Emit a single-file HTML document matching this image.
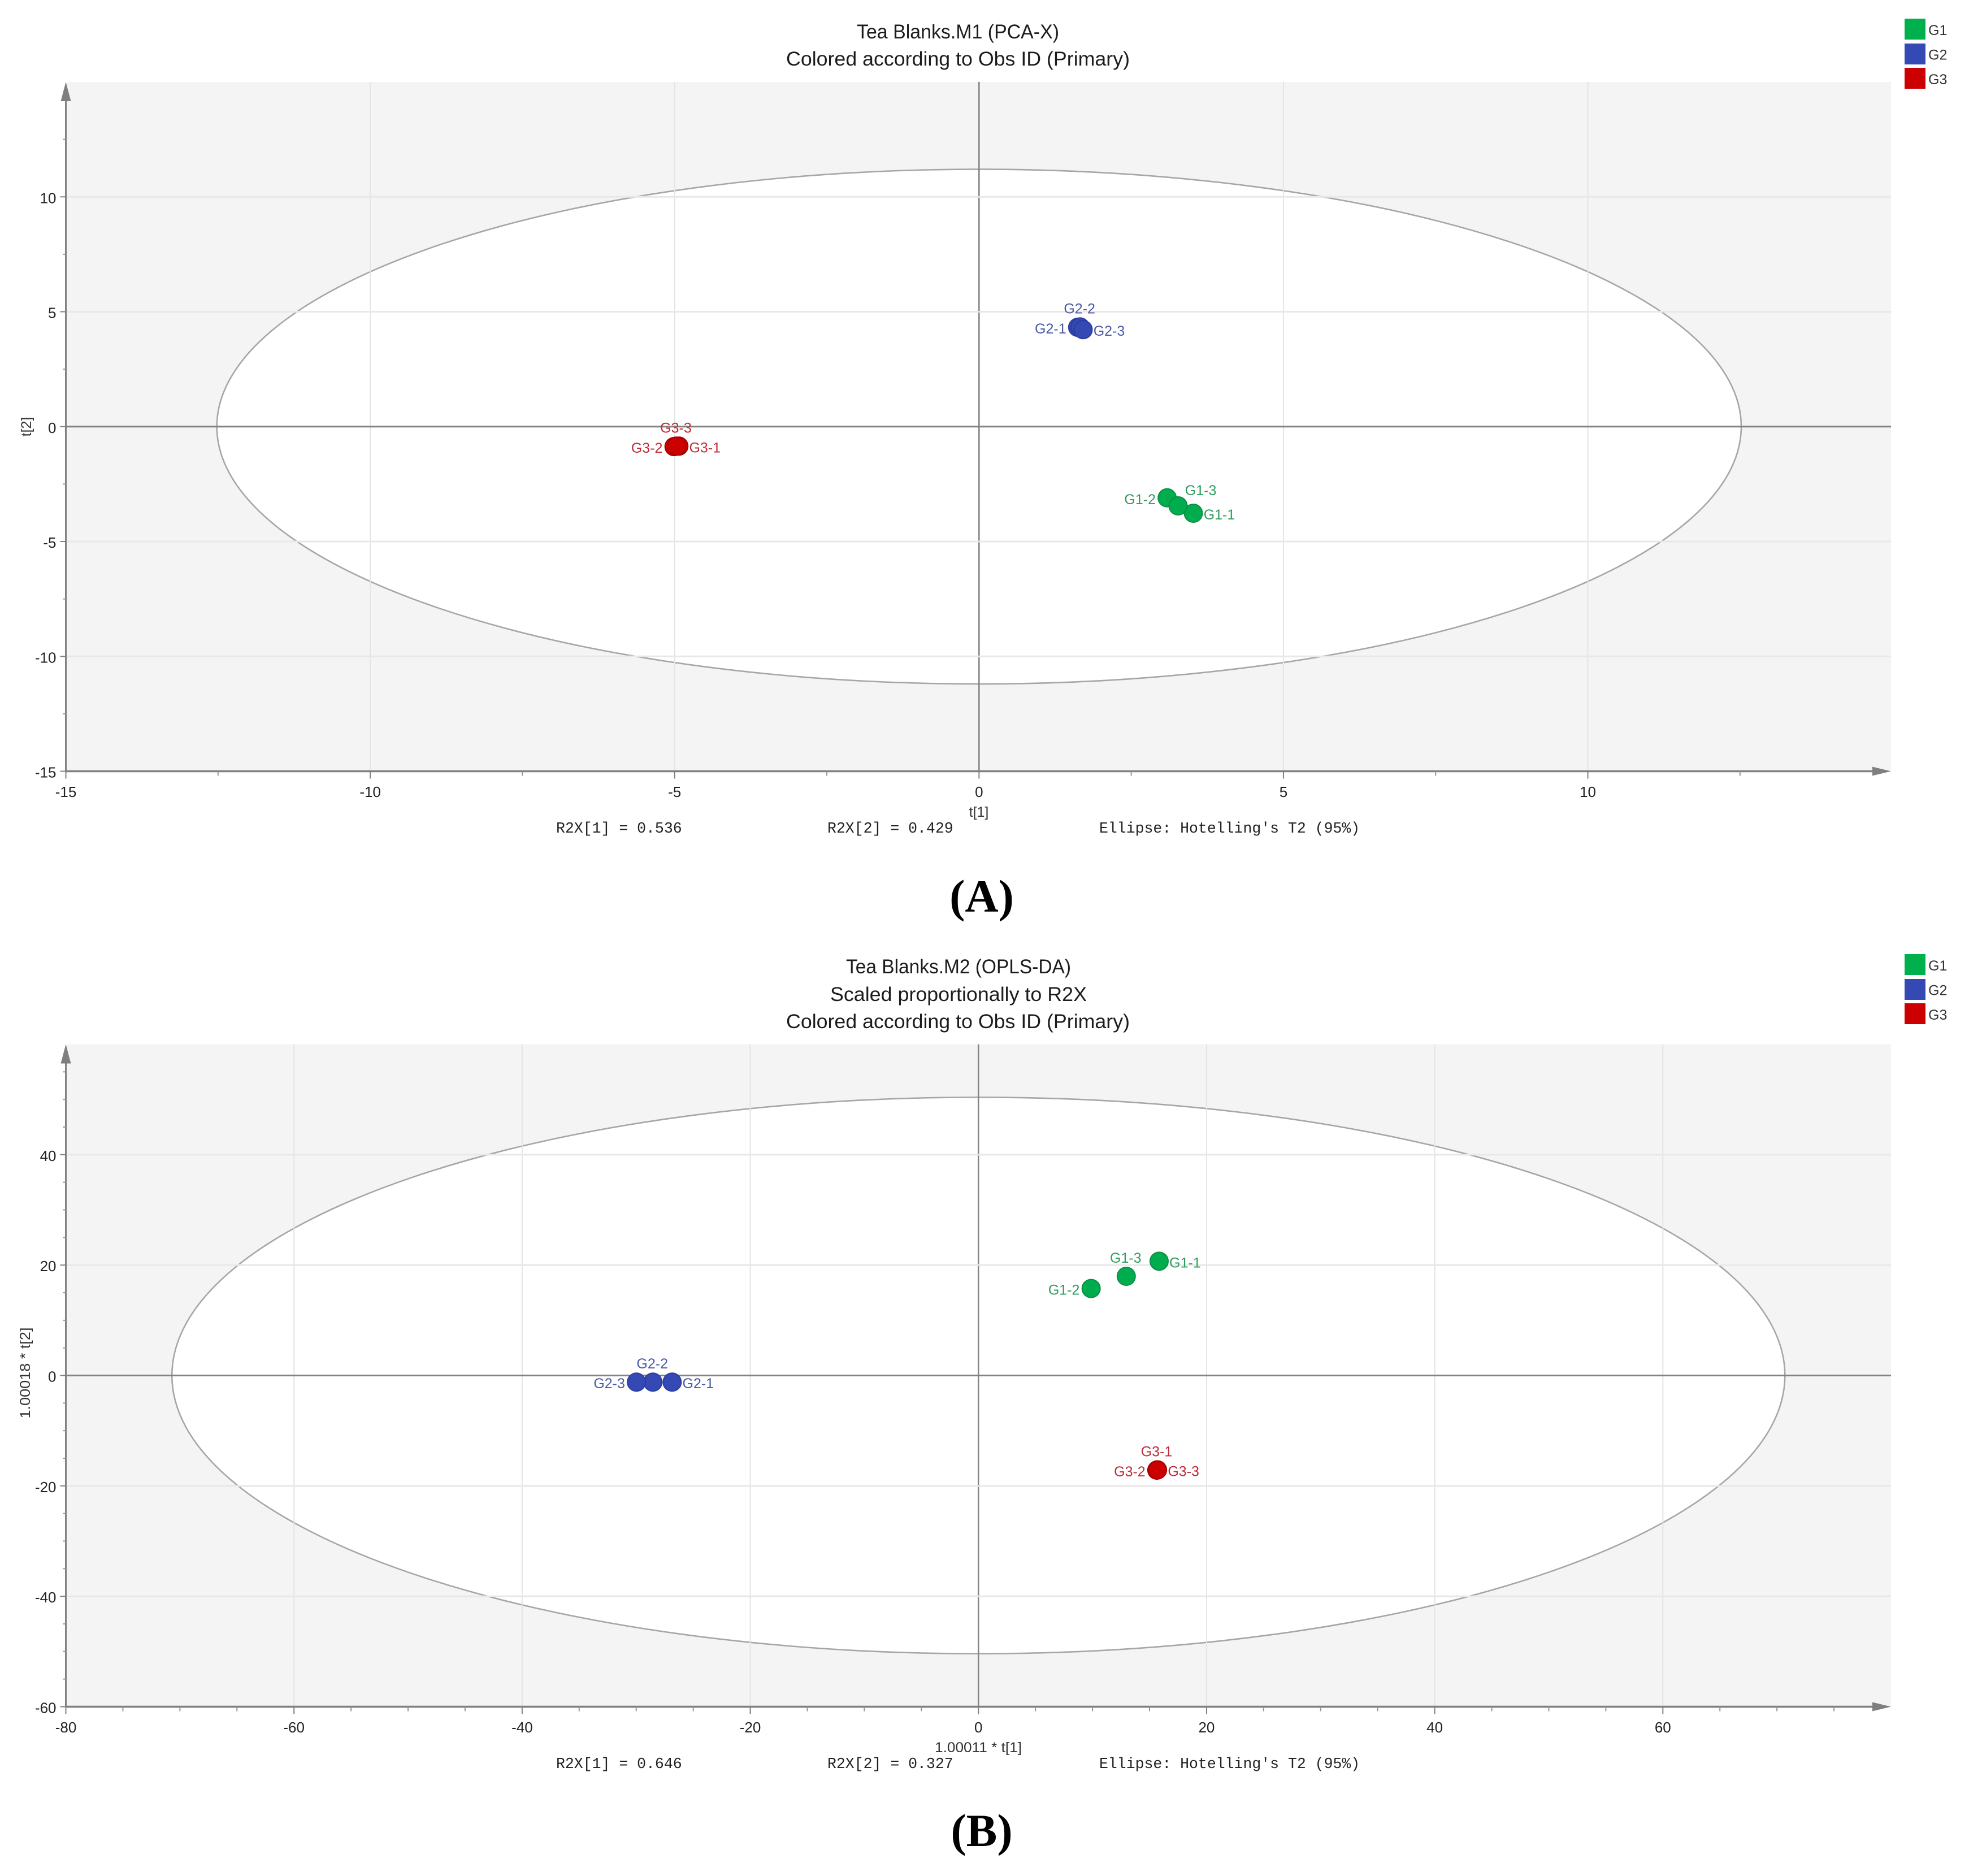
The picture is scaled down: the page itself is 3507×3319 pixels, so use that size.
<!DOCTYPE html>
<html lang="en">
<head>
<meta charset="utf-8">
<title>Tea Blanks score plots</title>
<style>
html,body{margin:0;padding:0;background:#fff;}
svg{display:block;}
text{font-family:"Liberation Sans",sans-serif;}
.title{font-size:35px;fill:#1c1c1c;text-anchor:middle;}
.mono{font-family:"Liberation Mono",monospace;font-size:26.5px;fill:#222;}
.panel{font-family:"Liberation Serif",serif;font-size:82px;font-weight:bold;fill:#000;text-anchor:middle;}
.axis-title{font-size:25px;fill:#333;text-anchor:middle;}
.legend-text{font-size:25px;fill:#333;}
.tick{font-size:26px;fill:#222;}
.point-label{font-size:25px;text-anchor:middle;}
</style>
</head>
<body>
<svg id="figure" xmlns="http://www.w3.org/2000/svg" width="3507" height="3319" viewBox="0 0 3507 3319">
  <rect x="0" y="0" width="3507" height="3319" fill="#ffffff"/>

  <g id="chart-a"></g>
  <g>
    <text class="title" x="1695" y="68" textLength="358" lengthAdjust="spacingAndGlyphs">Tea Blanks.M1 (PCA-X)</text>
    <text class="title" x="1695" y="116" textLength="608" lengthAdjust="spacingAndGlyphs">Colored according to Obs ID (Primary)</text>
  </g>
  <g>
    <rect x="3370" y="33" width="37" height="37" fill="#00b04f"/>
    <text class="legend-text" x="3412" y="62">G1</text>
    <rect x="3370" y="77" width="37" height="37" fill="#3549b5"/>
    <text class="legend-text" x="3412" y="105.5">G2</text>
    <rect x="3370" y="120" width="37" height="37" fill="#cc0000"/>
    <text class="legend-text" x="3412" y="149">G3</text>
  </g>
  <text class="axis-title" x="1732" y="1445">t[1]</text>
  <text class="axis-title" transform="translate(55,755) rotate(-90)">t[2]</text>
  <text class="mono" x="984" y="1473">R2X[1] = 0.536</text>
  <text class="mono" x="1464" y="1473">R2X[2] = 0.429</text>
  <text class="mono" x="1945" y="1473">Ellipse: Hotelling's T2 (95%)</text>
  <text class="panel" x="1737" y="1613">(A)</text>

  <g id="chart-b"></g>
  <g>
    <text class="title" x="1696" y="1722" textLength="398" lengthAdjust="spacingAndGlyphs">Tea Blanks.M2 (OPLS-DA)</text>
    <text class="title" x="1696" y="1771" textLength="454" lengthAdjust="spacingAndGlyphs">Scaled proportionally to R2X</text>
    <text class="title" x="1695" y="1819" textLength="608" lengthAdjust="spacingAndGlyphs">Colored according to Obs ID (Primary)</text>
  </g>
  <g>
    <rect x="3370" y="1688" width="37" height="37" fill="#00b04f"/>
    <text class="legend-text" x="3412" y="1717">G1</text>
    <rect x="3370" y="1732" width="37" height="37" fill="#3549b5"/>
    <text class="legend-text" x="3412" y="1760.5">G2</text>
    <rect x="3370" y="1775" width="37" height="37" fill="#cc0000"/>
    <text class="legend-text" x="3412" y="1804">G3</text>
  </g>
  <text class="axis-title" x="1731" y="3100" textLength="154" lengthAdjust="spacingAndGlyphs">1.00011 * t[1]</text>
  <text class="axis-title" transform="translate(53,2429) rotate(-90)" textLength="161" lengthAdjust="spacingAndGlyphs">1.00018 * t[2]</text>
  <text class="mono" x="984" y="3128">R2X[1] = 0.646</text>
  <text class="mono" x="1464" y="3128">R2X[2] = 0.327</text>
  <text class="mono" x="1945" y="3128">Ellipse: Hotelling's T2 (95%)</text>
  <text class="panel" x="1737" y="3266">(B)</text>
</svg>

<script>
// ---- Panel A (PCA-X) data ----
const pcaIds = ['G1-1','G1-2','G1-3','G2-1','G2-2','G2-3','G3-1','G3-2','G3-3'];
const pcaT1 = [3.52, 3.09, 3.27, 1.62, 1.66, 1.71, -4.93, -5.01, -4.97];
const pcaT2 = [-3.77, -3.10, -3.45, 4.32, 4.34, 4.22, -0.85, -0.87, -0.85];
const pcaLabelSides = ['right','left','top-right','left','top','right','right','left','top'];
const pcaXTickLabels = [-15, -10, -5, 0, 5, 10];
const pcaYTickLabels = [-15, -10, -5, 0, 5, 10];
const pcaXMinorTicks = [-12.5, -7.5, -2.5, 2.5, 7.5, 12.5];
const pcaYMinorTicks = [-12.5, -7.5, -2.5, 2.5, 7.5, 12.5];
const pcaEllipseRadii = [12.52, 11.2];

// ---- Panel B (OPLS-DA) data ----
const oplsIds = ['G1-1','G1-2','G1-3','G2-1','G2-2','G2-3','G3-1','G3-2','G3-3'];
const oplsT1 = [15.84, 9.88, 12.96, -26.85, -28.54, -29.98, 15.67, 15.64, 15.7];
const oplsT2 = [20.7, 15.76, 17.97, -1.2, -1.2, -1.2, -17.1, -17.15, -17.1];
const oplsLabelSides = ['right','left','top','right','top','left','top','left','right'];
const oplsXTickLabels = [-80, -60, -40, -20, 0, 20, 40, 60];
const oplsYTickLabels = [-60, -40, -20, 0, 20, 40];
const oplsXMinorTicks = [-75,-70,-65,-55,-50,-45,-35,-30,-25,-15,-10,-5,5,10,15,25,30,35,45,50,55,65,70,75];
const oplsYMinorTicks = [-55,-50,-45,-35,-30,-25,-15,-10,-5,5,10,15,25,30,35,45,50,55];
const oplsEllipseRadii = [70.7, 50.4];

const SVG_NS = 'http://www.w3.org/2000/svg';
const GROUP_FILL = {G1:'#00ad4e', G2:'#3549b5', G3:'#cc0000'};
const GROUP_STROKE = {G1:'#0b8f45', G2:'#2a3c9e', G3:'#a80000'};
const GROUP_TEXT = {G1:'#2f9c5e', G2:'#4a5aa6', G3:'#bf2b35'};
const SIDE_DX = {left:-48, right:46, top:-1, 'top-right':40};
const SIDE_DY = {left:11, right:11, top:-24, 'top-right':-19};

function node(tag, attrs, parent) {
  const el = document.createElementNS(SVG_NS, tag);
  for (const k in attrs) el.setAttribute(k, attrs[k]);
  parent.appendChild(el);
  return el;
}

function drawChart(root, prefix, frame, xDomain, yDomain, ids, t1, t2, sides, xTicks, yTicks, xMinor, yMinor, radii, tickBaseline) {
  const xScale = v => frame.left + (v - xDomain[0]) / (xDomain[1] - xDomain[0]) * (frame.right - frame.left);
  const yScale = v => frame.bottom - (v - yDomain[0]) / (yDomain[1] - yDomain[0]) * (frame.bottom - frame.top);

  const bg = node('rect', {x:frame.left, y:frame.top, width:frame.right-frame.left, height:frame.bottom-frame.top, fill:'#f4f4f4'}, root);
  
  

  const ell = node('ellipse', {cx:xScale(0), cy:yScale(0), rx:xScale(radii[0])-xScale(0), ry:yScale(0)-yScale(radii[1]), fill:'#ffffff', stroke:'#a6a6a6', 'stroke-width':2.6}, root);
  
  

  // grid
  xTicks.forEach(v => {
    if (v === xDomain[0]) return;
    const line = node('line', {x1:xScale(v), x2:xScale(v), y1:frame.top, y2:frame.bottom, stroke: v === 0 ? '#858585' : '#e4e4e4', 'stroke-width': v === 0 ? 2.6 : 2}, root);
    
    
  });
  yTicks.forEach(v => {
    if (v === yDomain[0]) return;
    const line = node('line', {x1:frame.left, x2:frame.right, y1:yScale(v), y2:yScale(v), stroke: v === 0 ? '#828282' : '#e8e8e8', 'stroke-width': 3}, root);
    
    
  });

  // axes
  const xAxis = node('line', {x1:frame.left, x2:frame.right-20, y1:frame.bottom, y2:frame.bottom, stroke:'#7f7f7f', 'stroke-width':3.5}, root);
  
  
  const yAxis = node('line', {x1:frame.left, x2:frame.left, y1:frame.bottom, y2:frame.top+20, stroke:'#7f7f7f', 'stroke-width':3}, root);
  
  
  const xArrow = node('polygon', {points:(frame.right-33)+','+(frame.bottom-8)+' '+frame.right+','+frame.bottom+' '+(frame.right-33)+','+(frame.bottom+8), fill:'#7f7f7f'}, root);
  
  
  const yArrow = node('polygon', {points:(frame.left-9)+','+(frame.top+34)+' '+frame.left+','+frame.top+' '+(frame.left+9)+','+(frame.top+34), fill:'#7f7f7f'}, root);
  
  

  // x ticks
  xTicks.forEach(v => {
    const tick = node('line', {x1:xScale(v), x2:xScale(v), y1:frame.bottom, y2:frame.bottom+13, stroke:'#808080', 'stroke-width':2}, root);
    
    
    const lab = node('text', {x:xScale(v), y:tickBaseline, 'text-anchor':'middle', class:'tick'}, root);
    lab.textContent = String(v);
    
    
  });
  xMinor.forEach(v => {
    const tick = node('line', {x1:xScale(v), x2:xScale(v), y1:frame.bottom, y2:frame.bottom+8, stroke:'#959595', 'stroke-width':2}, root);
    
    
  });

  // y ticks
  yTicks.forEach(v => {
    const tick = node('line', {x1:frame.left-10, x2:frame.left, y1:yScale(v), y2:yScale(v), stroke:'#808080', 'stroke-width':2}, root);
    
    
    const lab = node('text', {x:frame.left-17, y:yScale(v)+11, 'text-anchor':'end', class:'tick'}, root);
    lab.textContent = String(v);
    
    
  });
  yMinor.forEach(v => {
    const tick = node('line', {x1:frame.left-5, x2:frame.left, y1:yScale(v), y2:yScale(v), stroke:'#959595', 'stroke-width':2}, root);
    
    
  });

  // points
  ids.forEach((id, i) => {
    const group = id.slice(0, 2);
    const cx = xScale(t1[i]);
    const cy = yScale(t2[i]);
    const dot = node('circle', {cx:cx, cy:cy, r:16, fill:GROUP_FILL[group], stroke:GROUP_STROKE[group], 'stroke-width':2}, root);
    
    
  });
  ids.forEach((id, i) => {
    const group = id.slice(0, 2);
    const cx = xScale(t1[i]);
    const cy = yScale(t2[i]);
    const lab = node('text', {x:cx + SIDE_DX[sides[i]], y:cy + SIDE_DY[sides[i]], class:'point-label', fill:GROUP_TEXT[group]}, root);
    lab.textContent = id;
    
    
  });
}

drawChart(document.getElementById('chart-a'), 'pca',
  {left:116.5, right:3346, top:145, bottom:1364.5}, [-15, 14.98], [-15, 15],
  pcaIds, pcaT1, pcaT2, pcaLabelSides, pcaXTickLabels, pcaYTickLabels, pcaXMinorTicks, pcaYMinorTicks, pcaEllipseRadii, 1410);

drawChart(document.getElementById('chart-b'), 'opls',
  {left:116.5, right:3346, top:1847.5, bottom:3019.5}, [-80, 80], [-60, 60],
  oplsIds, oplsT1, oplsT2, oplsLabelSides, oplsXTickLabels, oplsYTickLabels, oplsXMinorTicks, oplsYMinorTicks, oplsEllipseRadii, 3065);
</script>
</body>
</html>
